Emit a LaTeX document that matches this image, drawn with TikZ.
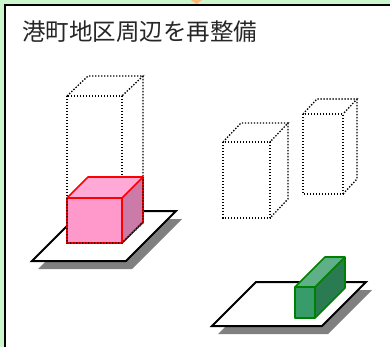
\documentclass[tikz,border=0pt]{standalone}
\usepackage{fontspec}
\newfontfamily\jpfont{Noto Sans CJK JP}
\usepackage{tikz}

\begin{document}
\begin{tikzpicture}[
    x=1pt, y=-1pt,
    frame/.style={draw=black, line width=2pt, fill=white},
    plate/.style={draw=black, line width=2pt, fill=white, line join=miter},
    plateshade/.style={fill=black!50},
    ghost/.style={draw=black, dash pattern=on 1.4pt off 1.6pt, line width=1.3pt},
    pinkedge/.style={draw=red, line width=1.6pt, line join=round},
    greenedge/.style={draw=green!50!black, line width=1.6pt, line join=round},
    title/.style={font=\jpfont\fontsize{23.5}{26}\selectfont, anchor=base west,
                  inner sep=0pt, text=black!85},
]
\definecolor{bggreen}{HTML}{CCF7CC}
\definecolor{pinkfront}{HTML}{FF99CC}
\definecolor{pinktop}{HTML}{FFAAD6}
\definecolor{pinkside}{HTML}{CC7AA8}
\definecolor{grnfront}{HTML}{379B6A}
\definecolor{grntop}{HTML}{5FB089}
\definecolor{grnside}{HTML}{2A7A52}
\definecolor{tipfill}{HTML}{FFB77A}

%% ── Panel background ─────────────────────────────────────────────────────────
\fill[bggreen] (0,0) rectangle (390,347);
\useasboundingbox (0,0) rectangle (390,347);
\draw[frame] (5,5) rectangle (400,360);
\fill[tipfill] (188,-2) -- (205,-2) -- (196.5,4) -- cycle;

\node[title] (ttl) at (22,41) {港町地区周辺を再整備};

%% ── Left lot: tall outline with pink block ───────────────────────────────────
\fill[plateshade] (38,269) -- (132,269) -- (182,219) -- (88,219) -- cycle;
\draw[plate] (32,261) -- (126,261) -- (176,211) -- (82,211) -- cycle;

% tall outline
\draw[ghost] (67,96) rectangle (122,243);
\draw[ghost] (67,96) -- (88,76) -- (143,76) -- (122,96);
\draw[ghost] (143,76) -- (143,223) -- (122,243);

% pink block
\fill[pinkfront] (67,198) rectangle (122,243);
\fill[pinktop]   (67,198) -- (88,177) -- (143,177) -- (122,198) -- cycle;
\fill[pinkside]  (122,198) -- (143,177) -- (143,222) -- (122,243) -- cycle;
\draw[pinkedge]  (67,198) rectangle (122,243);
\draw[pinkedge]  (67,198) -- (88,177) -- (143,177) -- (122,198);
\draw[pinkedge]  (143,177) -- (143,222) -- (122,243);

% outline edges showing through the block
\draw[ghost] (67,198) -- (67,243) -- (122,243) -- (143,222) -- (143,177);

%% ── Right lot: two outlines and green block ──────────────────────────────────
\draw[ghost] (223,142) rectangle (270,218);
\draw[ghost] (223,142) -- (241,123) -- (288,123) -- (270,142);
\draw[ghost] (288,123) -- (288,199) -- (270,218);

\draw[ghost] (303,114) rectangle (343,194);
\draw[ghost] (303,114) -- (317,99) -- (357,99) -- (343,114);
\draw[ghost] (357,99) -- (357,179) -- (343,194);

\fill[plateshade] (218,334) -- (328,334) -- (372,290) -- (262,290) -- cycle;
\draw[plate] (212,326) -- (322,326) -- (366,282) -- (256,282) -- cycle;

% green block
\fill[grnfront] (295,287) rectangle (315,318);
\fill[grntop]   (295,287) -- (325,257) -- (345,257) -- (315,287) -- cycle;
\fill[grnside]  (315,287) -- (345,257) -- (345,288) -- (315,318) -- cycle;
\draw[greenedge] (295,287) rectangle (315,318);
\draw[greenedge] (295,287) -- (325,257) -- (345,257) -- (315,287);
\draw[greenedge] (345,257) -- (345,288) -- (315,318);

\end{tikzpicture}
\end{document}
